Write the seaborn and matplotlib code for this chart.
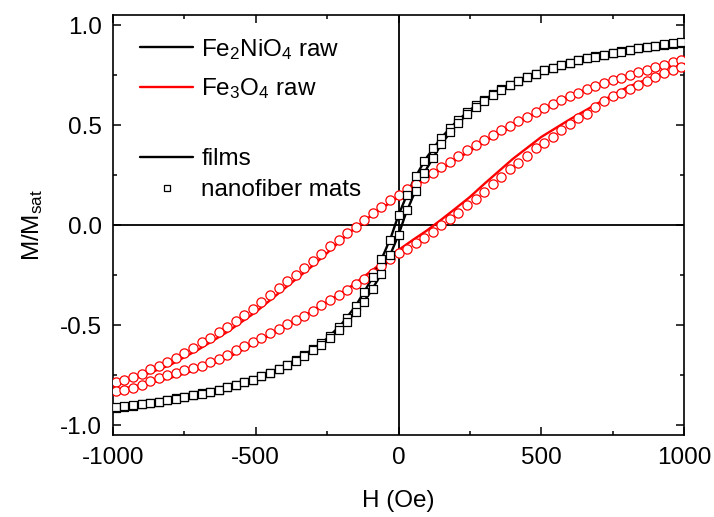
import matplotlib
matplotlib.use("Agg")
import matplotlib.pyplot as plt
from matplotlib.lines import Line2D
from matplotlib.ticker import MultipleLocator
import numpy as np
import pandas as pd
import seaborn as sns

# ---------------- data ----------------
film_H = [-1000, -900, -800, -700, -600, -500, -400, -300, -250, -200, -150, -100, -75, -50, -25,
          0, 25, 50, 75, 100, 150, 200, 250, 300, 400, 500, 600, 700, 800, 900, 1000]

# Fe2NiO4 films (black lines)
fe2nio4_film_desc = [-0.915, -0.897, -0.873, -0.847, -0.812, -0.768, -0.707, -0.622, -0.567, -0.497, -0.405,
                     -0.285, -0.215, -0.140, -0.055, 0.050, 0.135, 0.215, 0.280, 0.340, 0.437, 0.513, 0.575,
                     0.627, 0.707, 0.768, 0.812, 0.847, 0.873, 0.897, 0.915]
fe2nio4_film_asc = [-0.915, -0.897, -0.873, -0.847, -0.812, -0.768, -0.707, -0.627, -0.575, -0.513, -0.437,
                    -0.340, -0.280, -0.215, -0.135, -0.050, 0.055, 0.140, 0.215, 0.285, 0.405, 0.497, 0.567,
                    0.622, 0.707, 0.768, 0.812, 0.847, 0.873, 0.897, 0.915]

# Fe3O4 films (red lines)
fe3o4_film_desc = [-0.800, -0.755, -0.700, -0.622, -0.535, -0.435, -0.318, -0.203, -0.140, -0.075, -0.012,
                   0.042, 0.068, 0.092, 0.115, 0.140, 0.162, 0.185, 0.210, 0.235, 0.280, 0.325, 0.370,
                   0.415, 0.495, 0.575, 0.645, 0.700, 0.745, 0.780, 0.810]
fe3o4_film_asc = [-0.828, -0.800, -0.765, -0.720, -0.665, -0.590, -0.512, -0.428, -0.385, -0.340, -0.290,
                  -0.235, -0.208, -0.180, -0.152, -0.125, -0.100, -0.075, -0.051, -0.027, 0.027, 0.083,
                  0.140, 0.205, 0.330, 0.440, 0.528, 0.610, 0.688, 0.745, 0.787]

mats_H = [-990, -960, -930, -900, -870, -840, -810, -780, -750, -720, -690, -660, -630, -600, -570, -540,
          -510, -480, -450, -420, -390, -360, -330, -300, -270, -240, -210, -180, -150, -120, -90, -60, -30,
          0, 30, 60, 90, 120, 150, 180, 210, 240, 270, 300, 330, 360, 390, 420, 450, 480, 510, 540, 570,
          600, 630, 660, 690, 720, 750, 780, 810, 840, 870, 900, 930, 960, 990]

# Fe2NiO4 nanofiber mats (black squares)
fe2nio4_mats_desc = [-0.913, -0.908, -0.903, -0.897, -0.890, -0.883, -0.875, -0.867, -0.859, -0.851, -0.842,
                     -0.833, -0.823, -0.812, -0.800, -0.787, -0.773, -0.757, -0.740, -0.720, -0.700, -0.677,
                     -0.652, -0.622, -0.590, -0.553, -0.510, -0.463, -0.405, -0.335, -0.260, -0.170, -0.075,
                     0.050, 0.150, 0.245, 0.318, 0.383, 0.437, 0.483, 0.527, 0.565, 0.598, 0.627, 0.653,
                     0.678, 0.700, 0.720, 0.740, 0.757, 0.773, 0.787, 0.800, 0.812, 0.823, 0.833, 0.843,
                     0.852, 0.860, 0.868, 0.876, 0.883, 0.890, 0.896, 0.902, 0.907, 0.912]
fe2nio4_mats_asc = [-0.912, -0.907, -0.902, -0.896, -0.890, -0.883, -0.876, -0.868, -0.860, -0.852, -0.843,
                    -0.833, -0.823, -0.812, -0.800, -0.787, -0.773, -0.757, -0.740, -0.720, -0.700, -0.678,
                    -0.653, -0.627, -0.598, -0.565, -0.527, -0.483, -0.437, -0.383, -0.318, -0.245, -0.150,
                    -0.050, 0.075, 0.170, 0.260, 0.335, 0.405, 0.463, 0.510, 0.553, 0.590, 0.622, 0.652,
                    0.677, 0.700, 0.720, 0.740, 0.757, 0.773, 0.787, 0.800, 0.812, 0.823, 0.833, 0.842,
                    0.851, 0.859, 0.867, 0.875, 0.883, 0.890, 0.897, 0.903, 0.908, 0.913]

# Fe3O4 nanofiber mats (red circles)
fe3o4_mats_desc = [-0.787, -0.775, -0.760, -0.745, -0.722, -0.707, -0.685, -0.663, -0.640, -0.615, -0.587,
                   -0.563, -0.535, -0.510, -0.480, -0.450, -0.420, -0.383, -0.352, -0.315, -0.280, -0.248,
                   -0.215, -0.180, -0.145, -0.107, -0.074, -0.040, -0.008, 0.026, 0.060, 0.092, 0.123,
                   0.150, 0.178, 0.206, 0.235, 0.262, 0.290, 0.317, 0.345, 0.373, 0.400, 0.425, 0.450,
                   0.474, 0.497, 0.520, 0.542, 0.563, 0.585, 0.605, 0.625, 0.645, 0.662, 0.678, 0.693,
                   0.708, 0.723, 0.737, 0.750, 0.764, 0.777, 0.790, 0.802, 0.814, 0.826]
fe3o4_mats_asc = [-0.830, -0.825, -0.815, -0.800, -0.780, -0.764, -0.750, -0.740, -0.727, -0.713, -0.703,
                  -0.687, -0.669, -0.648, -0.624, -0.606, -0.587, -0.567, -0.540, -0.519, -0.497, -0.476,
                  -0.455, -0.428, -0.402, -0.375, -0.352, -0.325, -0.295, -0.268, -0.238, -0.205, -0.168,
                  -0.140, -0.118, -0.092, -0.065, -0.033, 0.000, 0.030, 0.062, 0.098, 0.130, 0.165, 0.205,
                  0.240, 0.278, 0.310, 0.345, 0.385, 0.410, 0.440, 0.475, 0.507, 0.533, 0.557, 0.590,
                  0.618, 0.645, 0.662, 0.680, 0.700, 0.722, 0.740, 0.758, 0.775, 0.792]

x_ticks = [-1000, -500, 0, 500, 1000]
y_ticks = [-1.0, -0.5, 0.0, 0.5, 1.0]

# ---------------- style ----------------
sns.set_style("ticks")
plt.rcParams["font.family"] = ["Liberation Sans", "DejaVu Sans"]
plt.rcParams["mathtext.fontset"] = "custom"
plt.rcParams["mathtext.rm"] = "Liberation Sans"
plt.rcParams["mathtext.it"] = "Liberation Sans:italic"
plt.rcParams["axes.unicode_minus"] = False
plt.rcParams["text.color"] = "black"
plt.rcParams["axes.labelcolor"] = "black"
plt.rcParams["xtick.color"] = "black"
plt.rcParams["ytick.color"] = "black"

FS = 17.5
BLACK = "black"
RED = "#ff0000"

fig = plt.figure(figsize=(7.14, 5.17), dpi=100)
ax = fig.add_axes([113 / 714, 82 / 517, 571 / 714, 420 / 517])

ax.axhline(0, color="black", lw=1.3, zorder=1)
ax.axvline(0, color="black", lw=1.3, zorder=1)

for vals, col in [(fe3o4_film_desc, RED), (fe3o4_film_asc, RED),
                  (fe2nio4_film_desc, BLACK), (fe2nio4_film_asc, BLACK)]:
    df = pd.DataFrame({"H": film_H, "M": vals})
    sns.lineplot(data=df, x="H", y="M", sort=False, estimator=None, color=col,
                 lw=1.7, ax=ax, zorder=2, legend=False)

for vals in (fe3o4_mats_desc, fe3o4_mats_asc):
    sns.scatterplot(x=mats_H, y=vals, marker="o", s=44, facecolor="white",
                    edgecolor=RED, linewidth=0.9, ax=ax, zorder=3, legend=False)
for vals in (fe2nio4_mats_desc, fe2nio4_mats_asc):
    sns.scatterplot(x=mats_H, y=vals, marker="s", s=30, facecolor="white",
                    edgecolor=BLACK, linewidth=0.9, ax=ax, zorder=4, legend=False)

ax.set_xlim(-1000, 1000)
ax.set_ylim(-1.05, 1.05)
ax.set_xticks(x_ticks)
ax.set_yticks(y_ticks)
ax.xaxis.set_minor_locator(MultipleLocator(250))
ax.yaxis.set_minor_locator(MultipleLocator(0.25))
ax.tick_params(which="both", direction="in", top=True, right=True, width=1.1,
               labelsize=FS, colors="black")
ax.tick_params(which="major", length=6)
ax.tick_params(axis="x", which="major", pad=9)
ax.tick_params(axis="y", which="major", pad=8)
ax.tick_params(which="minor", length=3)
for sp in ax.spines.values():
    sp.set_linewidth(1.2)
    sp.set_color("black")

ax.set_xlabel("H (Oe)", fontsize=FS, labelpad=15, color="black")
ax.set_ylabel("M/M$_{\\mathrm{sat}}$", fontsize=FS, labelpad=11, color="black")

h1 = [Line2D([], [], color=BLACK, lw=1.7), Line2D([], [], color=RED, lw=1.7)]
leg1 = ax.legend(h1, ["Fe$_2$NiO$_4$ raw", "Fe$_3$O$_4$ raw"], loc="upper left",
                 bbox_to_anchor=(0.047, 0.948), frameon=False, fontsize=FS,
                 handlelength=2.2, handletextpad=0.33, borderpad=0, borderaxespad=0,
                 labelspacing=0.6)
ax.add_artist(leg1)
h2 = [Line2D([], [], color=BLACK, lw=1.7),
      Line2D([], [], ls="none", marker="s", ms=4.5, mfc="white", mec=BLACK, mew=0.9)]
ax.legend(h2, ["films", "nanofiber mats"], loc="upper left",
          bbox_to_anchor=(0.047, 0.683), frameon=False, fontsize=FS,
          handlelength=2.2, handletextpad=0.33, borderpad=0, borderaxespad=0,
          labelspacing=0.38)

fig.savefig("out.png", dpi=100)
